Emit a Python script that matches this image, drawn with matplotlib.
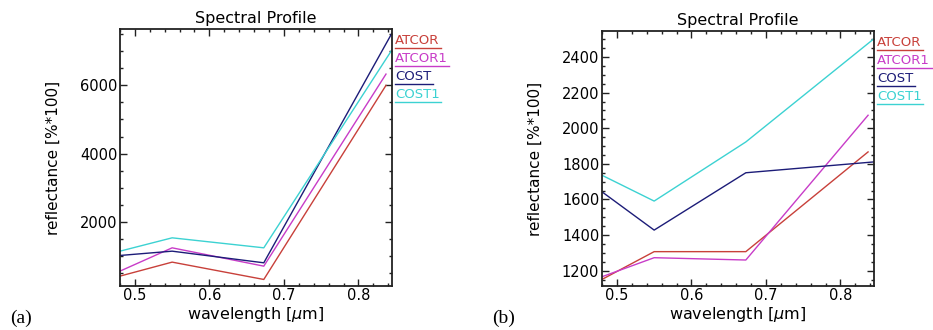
import numpy as np
import matplotlib.pyplot as plt
from matplotlib.ticker import MultipleLocator

# wavelengths [um] of the band centres
wl_atcor = [0.48, 0.55, 0.673, 0.837]
wl_cost = [0.48, 0.55, 0.673, 0.845]

series = ["ATCOR", "ATCOR1", "COST", "COST1"]
colors = ["#c8403a", "#c83cc8", "#1c1c78", "#3cd2d2"]

# panel (a)
a_atcor = [410, 820, 312, 6000]
a_atcor1 = [556, 1239, 702, 6330]
a_cost = [1015, 1141, 800, 7530]
a_cost1 = [1141, 1532, 1239, 7040]

# panel (b)
b_atcor = [1151, 1307, 1307, 1867]
b_atcor1 = [1166, 1273, 1260, 2073]
b_cost = [1643, 1428, 1750, 1811]
b_cost1 = [1736, 1591, 1923, 2503]

fig = plt.figure(figsize=(9.33, 3.3), dpi=100)
plt.rcParams['font.family'] = 'DejaVu Sans'
legend_texts = []

def panel(rect, data, ylim, major, minor, tag):
    ax = fig.add_axes(rect)
    xs = [wl_atcor, wl_atcor, wl_cost, wl_cost]
    for x, y, c in zip(xs, data, colors):
        ax.plot(x, y, color=c, lw=1.0)
    ax.set_xlim(0.48, 0.845)
    ax.set_ylim(*ylim)
    ax.xaxis.set_major_locator(MultipleLocator(0.1))
    ax.xaxis.set_minor_locator(MultipleLocator(0.02))
    ax.yaxis.set_major_locator(MultipleLocator(major))
    ax.yaxis.set_minor_locator(MultipleLocator(minor))
    ax.tick_params(which='both', direction='in', top=True, right=True,
                   width=1.0, color='#222222', labelsize=10.5, pad=2)
    ax.tick_params(axis='x', pad=1.5)
    ax.tick_params(which='major', length=5)
    ax.tick_params(which='minor', length=2.5)
    for s in ax.spines.values():
        s.set_linewidth(1.3)
        s.set_color('#222222')
    ax.set_title("Spectral Profile", fontsize=11.5, pad=4)
    ax.text(0.5, -0.074, "wavelength [$\\mu$m]", transform=ax.transAxes,
            ha='center', va='top', fontsize=11.5)
    ax.text(-0.245, 0.5, "reflectance [%*100]", transform=ax.transAxes,
            ha='center', va='center', rotation=90, fontsize=11)
    for i, (name, c) in enumerate(zip(series, colors)):
        yy = 0.955 - i * 0.07
        t = ax.text(1.012, yy, name, transform=ax.transAxes, color=c,
                    fontsize=9.5, ha='left', va='center')
        legend_texts.append((ax, t, yy, c))
    fig.text(rect[0] - 0.118, 0.035, tag, fontsize=14,
             family='Liberation Serif', ha='left', va='center')
    return ax

panel([0.1286, 0.1333, 0.2915, 0.7787],
      [a_atcor, a_atcor1, a_cost, a_cost1], (120, 7650), 2000, 500, "(a)")
panel([0.6452, 0.1333, 0.2916, 0.7727],
      [b_atcor, b_atcor1, b_cost, b_cost1], (1114, 2546), 200, 50, "(b)")

# underline each legend label over its own width
fig.canvas.draw()
r = fig.canvas.get_renderer()
for ax, t, yy, c in legend_texts:
    bb = t.get_window_extent(r).transformed(ax.transAxes.inverted())
    ax.plot([1.012, bb.x1 + 0.005], [yy - 0.03, yy - 0.03], color=c, lw=1.0,
            transform=ax.transAxes, clip_on=False)

fig.savefig("out.png", dpi=100)
